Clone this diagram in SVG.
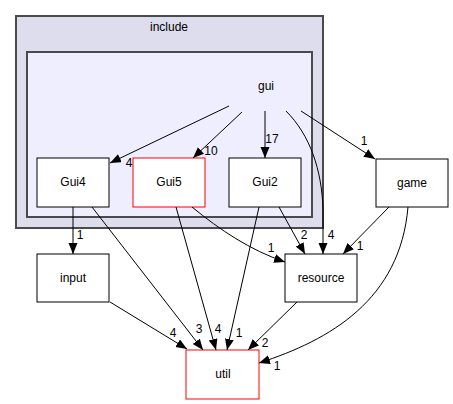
<svg xmlns="http://www.w3.org/2000/svg" width="453" height="404" viewBox="0 0 453 404">
<defs>
<marker id="arr" markerUnits="userSpaceOnUse" markerWidth="12" markerHeight="10" refX="11" refY="4.5" orient="auto">
<path d="M0,0 L11,4.5 L0,9 z" fill="#000"/>
</marker>
<style>
text{font-family:"Liberation Sans",Arial,sans-serif;font-size:12px;fill:#000}
.c{text-anchor:middle}
.node{fill:#fff;stroke:#000;stroke-width:1}
.red{fill:#fff;stroke:#ff0000;stroke-width:1}
.e{fill:none;stroke:#000;stroke-width:1;marker-end:url(#arr)}
</style>
</defs>
<rect width="453" height="404" fill="#fff"/>
<g id="cluster_include">
<rect x="16" y="16" width="307" height="212" fill="#ddddee" stroke="#4a4a4a" stroke-width="2"/>
<text class="c" x="169" y="31">include</text>
</g>
<g id="cluster_gui">
<rect x="27" y="52" width="285" height="165" fill="#eeeeff" stroke="#4a4a4a" stroke-width="2"/>
<text class="c" x="266" y="90">gui</text>
</g>
<g id="Gui4"><rect class="node" x="37" y="158" width="72" height="49"/><text class="c" x="73" y="186">Gui4</text></g>
<g id="Gui5"><rect class="red" x="133" y="158" width="72" height="49"/><text class="c" x="169" y="186">Gui5</text></g>
<g id="Gui2"><rect class="node" x="229" y="158" width="72" height="49"/><text class="c" x="265" y="186">Gui2</text></g>
<g id="game"><rect class="node" x="376" y="159" width="72" height="48"/><text class="c" x="412" y="187">game</text></g>
<g id="input"><rect class="node" x="37" y="254" width="72" height="48"/><text class="c" x="73" y="282">input</text></g>
<g id="resource"><rect class="node" x="285" y="254" width="72" height="48"/><text class="c" x="321" y="282">resource</text></g>
<g id="util"><rect class="red" x="186" y="350" width="73" height="49"/><text class="c" x="223" y="378">util</text></g>
<g id="edges">
<path class="e" d="M229,106 L110,163"/>
<text class="c" x="129" y="167">4</text>
<path class="e" d="M242,112 L193,158"/>
<text class="c" x="211" y="155">10</text>
<path class="e" d="M265,111 L265,158"/>
<text class="c" x="272" y="143">17</text>
<path class="e" d="M286,111 C310,135 322,170 323,210 L323,254"/>
<text class="c" x="331" y="239">4</text>
<path class="e" d="M301,111 L375,159"/>
<text class="c" x="364" y="145">1</text>
<path class="e" d="M73,207 L73,254"/>
<text class="c" x="80" y="239">1</text>
<path class="e" d="M92,207 L203,350"/>
<text class="c" x="199" y="333">3</text>
<path class="e" d="M176,207 L216,350"/>
<text class="c" x="218" y="333">4</text>
<path class="e" d="M192,207 C220,230 250,250 285,262"/>
<text class="c" x="271" y="252">1</text>
<path class="e" d="M259,207 L227,350"/>
<text class="c" x="239" y="337">1</text>
<path class="e" d="M279,207 L305,254"/>
<text class="c" x="304" y="239">2</text>
<path class="e" d="M389,207 L343,254"/>
<text class="c" x="360" y="250">1</text>
<path class="e" d="M408,207 C400,300 330,340 259,363"/>
<text class="c" x="277" y="370">1</text>
<path class="e" d="M110,302 L187,349"/>
<text class="c" x="173" y="337">4</text>
<path class="e" d="M297,302 L248,350"/>
<text class="c" x="265" y="347">2</text>
</g>
</svg>
